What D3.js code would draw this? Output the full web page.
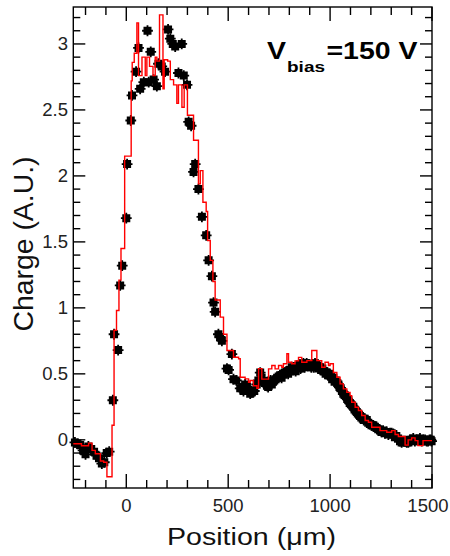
<!DOCTYPE html>
<html><head><meta charset="utf-8">
<script src="https://cdn.jsdelivr.net/npm/d3@7"></script>
<style>body{margin:0;background:#fff;} svg{display:block;}</style>
</head><body>
<svg id="c" width="450" height="556"></svg>
<script>
// ---- data ----
const xMajorTicks = [0, 500, 1000, 1500];
const xMinorTicks = [-200, -100, 100, 200, 300, 400, 600, 700, 800, 900, 1100, 1200, 1300, 1400];
const yMajorTicks = [0, 0.5, 1, 1.5, 2, 2.5, 3];
const yTickLabels = ["0", "0.5", "1", "1.5", "2", "2.5", "3"];
const xTickLabels = ["0", "500", "1000", "1500"];

// measured charge (black markers): [position µm, charge]
const measured = [
[-252,-0.02],[-240,-0.03],[-226,-0.04],[-212,-0.08],[-200,-0.11],[-186,-0.05],[-172,-0.07],[-158,-0.09],
[-146,-0.12],[-134,-0.14],[-120,-0.18],[-108,-0.17],[-96,-0.10],[-84,-0.09],
[-66,0.30],[-60,0.80],[-40,0.68],[-30,1.17],[-20,1.32],[0,1.68],[4,2.09],[22,2.42],[28,2.61],[48,2.79],
[60,2.97],[68,2.66],[86,2.71],[104,3.10],[110,2.71],[120,2.94],[134,2.73],[150,2.68],[158,2.85],[174,2.83],
[190,2.79],[205,3.11],[216,3.04],[228,3.00],[240,2.98],[256,2.78],[272,3.00],[282,2.76],[298,2.69],[306,2.41],
[318,2.38],[330,2.03],[338,2.09],[354,1.90],[371,1.69],[392,1.55],[404,1.36],[420,1.24],[428,1.04],[436,0.97],
[452,0.80],[460,0.78],[469,0.75],[494,0.54],[502,0.53],[518,0.65],[526,0.46],[540,0.45],[559,0.39],[567,0.39],
[583,0.42],[600,0.38],[616,0.36],[628,0.37],[640,0.42],[657,0.51],[670,0.44],[690,0.41],[702,0.43],[714,0.42],
[726,0.45],[740,0.47],[755,0.49],[770,0.50],[788,0.52],[800,0.53],[812,0.55],[825,0.54],[837,0.56],[850,0.57],
[860,0.55],[869,0.58],[880,0.57],[890,0.56],[902,0.56],[914,0.57],[926,0.58],[938,0.56],[951,0.55],[962,0.54],
[972,0.52],[984,0.51],[995,0.50],[1005,0.48],[1016,0.47],[1028,0.45],[1041,0.42],[1052,0.39],[1065,0.35],
[1078,0.33],[1090,0.30],[1102,0.27],[1114,0.25],[1126,0.22],[1136,0.20],[1147,0.18],[1160,0.16],[1170,0.16],
[1180,0.15],[1195,0.12],[1212,0.11],[1228,0.09],[1245,0.07],[1260,0.07],[1278,0.06],[1294,0.05],[1310,0.045],
[1325,0.03],[1343,-0.01],[1360,-0.01],[1376,-0.02],[1392,0.0],[1408,0.01],[1424,0.0],[1441,0.01],[1458,0.0],
[1474,-0.01],[1488,0.0],[1498,-0.01],
[575,0.37],[592,0.40],[608,0.35],[648,0.45],[664,0.47],[680,0.43],[696,0.40],[708,0.45],[720,0.44],[733,0.46],
[748,0.48],[762,0.47],[778,0.51],[794,0.50],[806,0.52],[818,0.53],[831,0.52],[843,0.55],[855,0.54],[865,0.56],
[875,0.55],[885,0.58],[896,0.57],[908,0.55],[920,0.55],[932,0.57],[944,0.54],[956,0.53],[967,0.52],[978,0.50],
[990,0.49],[1000,0.49],[1010,0.46],[1022,0.44],[1035,0.43],[1046,0.40],[1058,0.37],[1071,0.34],[1084,0.31],
[1096,0.28],[1108,0.26],[1120,0.23],[1131,0.21],[1142,0.19],[1153,0.17],[1165,0.15],[1187,0.13],[1203,0.11],
[1220,0.10],[1236,0.08],[1252,0.06],[1269,0.05],[1286,0.04],[1302,0.05],[1318,0.02],[1334,0.01],[1351,-0.02],
[1368,-0.01],[1384,-0.02],[1400,0.0],[1416,-0.01],[1432,0.0],[1450,-0.01],[1466,0.0],[1481,-0.01],[1494,0.0]
];

// simulated charge (red histogram): [bin start µm, charge]
const simulated = [
[-260,-0.03],[-220,-0.045],[-185,-0.025],[-168,-0.08],[-152,-0.105],[-127,-0.16],[-111,-0.17],[-95,-0.28],
[-70,0.11],[-60,0.83],[-48,0.98],[-36,1.21],[-26,1.45],[-8,2.15],[24,2.72],[29,2.86],[39,2.93],[52,3.16],
[60,2.76],[77,2.90],[93,2.76],[101,2.90],[114,2.83],[131,2.76],[142,2.90],[150,2.87],[163,3.22],[180,2.66],
[186,2.88],[203,2.87],[216,2.73],[232,2.69],[248,2.55],[256,2.69],[273,2.52],[284,2.69],[300,2.46],[330,2.27],
[354,1.94],[363,2.04],[376,1.80],[392,1.73],[399,1.51],[412,1.36],[425,1.20],[436,1.06],[461,0.93],[477,0.80],
[494,0.677],[526,0.626],[551,0.614],[559,0.474],[583,0.462],[600,0.436],[608,0.45],[624,0.41],[641,0.39],
[649,0.54],[665,0.46],[698,0.538],[714,0.563],[730,0.538],[747,0.563],[763,0.55],[771,0.576],[788,0.652],
[796,0.588],[812,0.576],[828,0.598],[845,0.625],[861,0.588],[886,0.60],[910,0.677],[935,0.60],[959,0.55],
[975,0.588],[992,0.563],[1000,0.576],[1016,0.51],[1033,0.474],[1049,0.424],[1065,0.386],[1082,0.36],
[1098,0.335],[1106,0.285],[1123,0.247],[1139,0.222],[1155,0.184],[1172,0.146],[1188,0.133],[1204,0.095],
[1245,0.07],[1278,0.057],[1302,0.07],[1319,0.04],[1335,0.025],[1368,-0.04],[1383,0.0],[1400,0.015],
[1417,-0.006],[1431,-0.044],[1456,-0.006],[1500,-0.006]
];

// ---- layout ----
const L = 73.3, R = 432, T = 7, B = 488;
const svg = d3.select("#c");
const x = d3.scaleLinear().domain([-260, 1500]).range([L, R]);
const y = d3.scaleLinear().domain([-0.365, 3.28]).range([B, T]);
const yMinor = d3.range(-3, 33).map(d => d / 10).filter(v => Math.abs(v * 2 - Math.round(v * 2)) > 1e-6);

const ax = svg.append("g").attr("stroke", "#000").attr("stroke-width", 1.4);
ax.append("rect").attr("x", L).attr("y", T).attr("width", R - L).attr("height", B - T).attr("fill", "none");
xMajorTicks.forEach(v => {
  ax.append("line").attr("x1", x(v)).attr("x2", x(v)).attr("y1", B).attr("y2", B - 14);
  ax.append("line").attr("x1", x(v)).attr("x2", x(v)).attr("y1", T).attr("y2", T + 14);
});
xMinorTicks.forEach(v => {
  ax.append("line").attr("x1", x(v)).attr("x2", x(v)).attr("y1", B).attr("y2", B - 8);
  ax.append("line").attr("x1", x(v)).attr("x2", x(v)).attr("y1", T).attr("y2", T + 8);
});
yMajorTicks.forEach(v => {
  ax.append("line").attr("x1", L).attr("x2", L + 12).attr("y1", y(v)).attr("y2", y(v));
  ax.append("line").attr("x1", R).attr("x2", R - 12).attr("y1", y(v)).attr("y2", y(v));
});
yMinor.forEach(v => {
  ax.append("line").attr("x1", L).attr("x2", L + 7).attr("y1", y(v)).attr("y2", y(v));
  ax.append("line").attr("x1", R).attr("x2", R - 7).attr("y1", y(v)).attr("y2", y(v));
});

const font = "'Liberation Sans', Arial, Helvetica, sans-serif";
yMajorTicks.forEach((v, i) => {
  svg.append("text").attr("x", 68).attr("y", y(v)).attr("dy", "0.35em")
    .attr("text-anchor", "end").attr("font-family", font).attr("font-size", 18.5)
    .attr("fill", "#222").text(yTickLabels[i]);
});
xMajorTicks.forEach((v, i) => {
  const last = i === xMajorTicks.length - 1;
  svg.append("text").attr("x", last ? 448.5 : x(v)).attr("y", 512)
    .attr("text-anchor", last ? "end" : "middle").attr("font-family", font).attr("font-size", 18.5)
    .attr("fill", "#222").text(xTickLabels[i]);
});

// black markers
const markerType = {
  draw(ctx) {
    const h = 4, a = 5.4, w = 0.9;
    ctx.moveTo(-h, -h); ctx.lineTo(h, -h); ctx.lineTo(h, h); ctx.lineTo(-h, h); ctx.closePath();
    ctx.moveTo(-a, -w); ctx.lineTo(a, -w); ctx.lineTo(a, w); ctx.lineTo(-a, w); ctx.closePath();
    ctx.moveTo(-w, -a); ctx.lineTo(w, -a); ctx.lineTo(w, a); ctx.lineTo(-w, a); ctx.closePath();
  }
};
const sym = d3.symbol().type(markerType);
svg.append("g").selectAll("path").data(measured).join("path")
  .attr("d", sym).attr("transform", d => `translate(${x(d[0])},${y(d[1])})`)
  .attr("fill", "#000");

// red simulated histogram (drawn over the markers)
const line = d3.line().x(d => x(d[0])).y(d => y(d[1])).curve(d3.curveStepAfter);
svg.append("path").datum(simulated).attr("d", line)
  .attr("fill", "none").attr("stroke", "#ff0000").attr("stroke-width", 1.4);

// axis titles
svg.append("text").attr("x", 251.5).attr("y", 545).attr("text-anchor", "middle")
  .attr("font-family", font).attr("font-size", 23.5).attr("fill", "#111")
  .attr("textLength", 169).attr("lengthAdjust", "spacingAndGlyphs").text("Position (μm)");
svg.append("text").attr("transform", "translate(33,244) rotate(-90)").attr("text-anchor", "middle")
  .attr("font-family", font).attr("font-size", 27).attr("fill", "#111")
  .attr("textLength", 175).attr("lengthAdjust", "spacingAndGlyphs").text("Charge (A.U.)");

// annotation
svg.append("text").attr("x", 267).attr("y", 59.3).attr("font-family", font).attr("font-weight", "bold")
  .attr("font-size", 24).attr("fill", "#000").attr("textLength", 19).attr("lengthAdjust", "spacingAndGlyphs").text("V");
svg.append("text").attr("x", 287).attr("y", 71.7).attr("font-family", font).attr("font-weight", "bold")
  .attr("font-size", 15.5).attr("fill", "#000").attr("textLength", 38).attr("lengthAdjust", "spacingAndGlyphs").text("bias");
svg.append("text").attr("x", 326.5).attr("y", 59.3).attr("font-family", font).attr("font-weight", "bold")
  .attr("font-size", 24).attr("fill", "#000").attr("textLength", 91).attr("lengthAdjust", "spacingAndGlyphs").text("=150 V");
</script>
</body></html>
